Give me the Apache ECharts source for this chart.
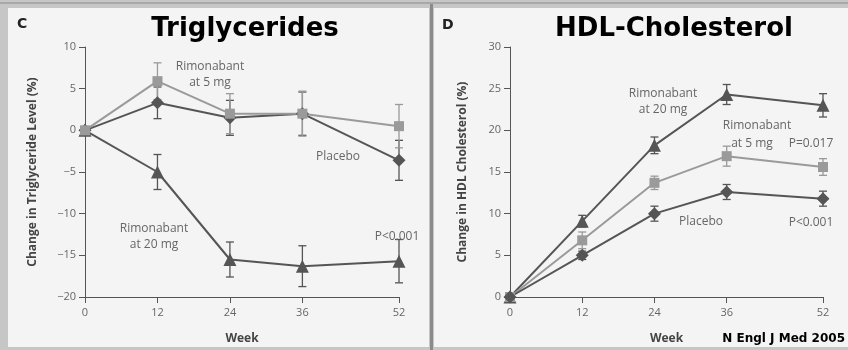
<!DOCTYPE html>
<html>
<head>
<meta charset="utf-8">
<script src="https://cdn.jsdelivr.net/npm/echarts@6/dist/echarts.min.js"></script>
<style>
  html, body { margin: 0; padding: 0; background: #c6c6c6; }
  #chart { width: 848px; height: 350px; }
</style>
</head>
<body>
<div id="chart"></div>
<script>
// Study weeks shared by both panels
const weeks = [0, 12, 24, 36, 52];
const weekTicks = [0, 12, 24, 36, 52];

// Panel C: change in triglyceride level (%), mean and error half-width
const tgPlacebo = [0, 3.3, 1.5, 2.0, -3.6];
const tgPlaceboErr = [0, 1.9, 2.1, 2.6, 2.4];
const tg5mg = [0, 5.9, 2.0, 2.0, 0.5];
const tg5mgErr = [0, 2.2, 2.4, 2.7, 2.6];
const tg20mg = [0, -5.0, -15.5, -16.3, -15.7];
const tg20mgErr = [0, 2.1, 2.1, 2.45, 2.6];

// Panel D: change in HDL cholesterol (%), mean and error half-width
const hdlPlacebo = [0, 5.0, 10.0, 12.6, 11.8];
const hdlPlaceboErr = [0, 0.5, 0.9, 0.9, 0.9];
const hdl5mg = [0, 6.8, 13.7, 16.9, 15.6];
const hdl5mgErr = [0, 1.0, 0.8, 1.2, 1.0];
const hdl20mg = [0, 9.1, 18.2, 24.3, 23.0];
const hdl20mgErr = [0, 0.7, 1.0, 1.2, 1.4];

const DARK = '#555555';
const LIGHT = '#9a9a9a';
const TEXT = '#666666';
const labelFont = '"Open Sans", "Noto Sans", sans-serif';

const chart = echarts.init(document.getElementById('chart'));

function pts(vals) { return weeks.map((w, i) => [w, vals[i]]); }
function errs(vals, e) {
  return weeks.map((w, i) => [w, vals[i] - e[i], vals[i] + e[i]]).filter((d, i) => e[i] > 0);
}

function lineSeries(axisIdx, vals, color, symbol, size) {
  return {
    type: 'line', xAxisIndex: axisIdx, yAxisIndex: axisIdx,
    data: pts(vals), symbol: symbol, symbolSize: size, showSymbol: true,
    lineStyle: { color: color, width: 2 },
    itemStyle: { color: color, borderWidth: 0 },
    animation: false, z: 3
  };
}

function errorSeries(axisIdx, vals, e, color) {
  return {
    type: 'custom', xAxisIndex: axisIdx, yAxisIndex: axisIdx,
    data: errs(vals, e), animation: false, z: 2,
    renderItem: function (params, api) {
      const x = api.value(0);
      const top = api.coord([x, api.value(2)]);
      const bot = api.coord([x, api.value(1)]);
      const cap = 4;
      const style = { stroke: color, lineWidth: 1.3 };
      return {
        type: 'group',
        children: [
          { type: 'line', shape: { x1: top[0], y1: top[1], x2: bot[0], y2: bot[1] }, style: style },
          { type: 'line', shape: { x1: top[0] - cap, y1: top[1], x2: top[0] + cap, y2: top[1] }, style: style },
          { type: 'line', shape: { x1: bot[0] - cap, y1: bot[1], x2: bot[0] + cap, y2: bot[1] }, style: style }
        ]
      };
    }
  };
}

function xAxisCfg(gridIdx) {
  return {
    type: 'value', gridIndex: gridIdx, min: 0, max: 52,
    name: 'Week', nameLocation: 'middle', nameGap: 36,
    nameTextStyle: { fontFamily: labelFont, fontWeight: 'bold', fontSize: 12, color: '#444' },
    axisLine: { onZero: false, lineStyle: { color: DARK, width: 1 } },
    axisTick: { show: true, length: 6, customValues: weekTicks, lineStyle: { color: DARK } },
    axisLabel: { customValues: weekTicks, fontFamily: labelFont, fontSize: 11, color: TEXT, margin: 10 },
    splitLine: { show: false }
  };
}

function yAxisCfg(gridIdx, min, max, name, gap) {
  return {
    type: 'value', gridIndex: gridIdx, min: min, max: max, interval: 5,
    name: name, nameLocation: 'middle', nameGap: gap,
    nameTextStyle: { fontFamily: labelFont, fontWeight: 'bold', fontSize: 12, color: '#444' },
    axisLine: { show: true, onZero: false, lineStyle: { color: DARK, width: 1 } },
    axisTick: { show: true, length: 6, lineStyle: { color: DARK } },
    axisLabel: {
      fontFamily: labelFont, fontSize: 11, color: TEXT, margin: 9,
      formatter: v => String(v).replace('-', '\u2212')
    },
    splitLine: { show: false }
  };
}

function note(x, y, text, align) {
  return {
    type: 'text', x: x, y: y, z: 10,
    style: {
      text: text, fill: TEXT, font: '12px ' + labelFont,
      textAlign: align || 'center', textVerticalAlign: 'middle', lineHeight: 16
    }
  };
}

const option = {
  backgroundColor: '#c6c6c6',
  animation: false,
  grid: [
    { left: 85, right: 449, top: 47, bottom: 52 },
    { left: 510, right: 25, top: 47, bottom: 52 }
  ],
  xAxis: [xAxisCfg(0), xAxisCfg(1)],
  yAxis: [
    yAxisCfg(0, -20, 10, 'Change in Triglyceride Level (%)', 46),
    yAxisCfg(1, 0, 30, 'Change in HDL Cholesterol (%)', 41)
  ],
  graphic: [
    // panel backgrounds and frame
    { type: 'rect', shape: { x: 8, y: 8, width: 421, height: 339 }, style: { fill: '#f4f4f4' }, z: -10 },
    { type: 'rect', shape: { x: 434, y: 8, width: 414, height: 339 }, style: { fill: '#f4f4f4' }, z: -10 },
    { type: 'rect', shape: { x: 0, y: 2, width: 848, height: 2 }, style: { fill: '#a8a8a8' }, z: -9 },
    { type: 'rect', shape: { x: 430, y: 4, width: 3, height: 346 }, style: { fill: '#8a8a8a' }, z: -9 },
    // panel letters and titles
    { type: 'text', x: 17, y: 24, style: { text: 'C', font: 'bold 14px "DejaVu Sans", sans-serif', fill: '#222', textVerticalAlign: 'middle' } },
    { type: 'text', x: 442, y: 25, style: { text: 'D', font: 'bold 14px "DejaVu Sans", sans-serif', fill: '#222', textVerticalAlign: 'middle' } },
    { type: 'text', x: 245, y: 29, style: { text: 'Triglycerides', font: 'bold 26px "Comic Sans MS", "DejaVu Sans", sans-serif', fill: '#000', textAlign: 'center', textVerticalAlign: 'middle' } },
    { type: 'text', x: 674, y: 29, style: { text: 'HDL-Cholesterol', font: 'bold 26px "Comic Sans MS", "DejaVu Sans", sans-serif', fill: '#000', textAlign: 'center', textVerticalAlign: 'middle' } },
    { type: 'text', x: 845, y: 339, style: { text: 'N Engl J Med 2005', font: 'bold 12px "Comic Sans MS", "DejaVu Sans", sans-serif', fill: '#000', textAlign: 'right', textVerticalAlign: 'middle' } },
    // series annotations, panel C
    note(210, 75, 'Rimonabant\nat 5 mg'),
    note(338, 157, 'Placebo'),
    note(154, 237, 'Rimonabant\nat 20 mg'),
    note(397, 237, 'P<0.001'),
    // series annotations, panel D
    note(663, 102, 'Rimonabant\nat 20 mg'),
    note(757, 126, 'Rimonabant'),
    note(752, 144, 'at 5 mg'),
    note(811, 144, 'P=0.017'),
    note(701, 222, 'Placebo'),
    note(811, 223, 'P<0.001')
  ],
  series: [
    errorSeries(0, tg20mg, tg20mgErr, DARK),
    errorSeries(0, tgPlacebo, tgPlaceboErr, DARK),
    errorSeries(0, tg5mg, tg5mgErr, LIGHT),
    lineSeries(0, tg20mg, DARK, 'triangle', 13),
    lineSeries(0, tgPlacebo, DARK, 'diamond', 13),
    lineSeries(0, tg5mg, LIGHT, 'rect', 10),

    errorSeries(1, hdl20mg, hdl20mgErr, DARK),
    errorSeries(1, hdl5mg, hdl5mgErr, LIGHT),
    errorSeries(1, hdlPlacebo, hdlPlaceboErr, DARK),
    lineSeries(1, hdl20mg, DARK, 'triangle', 13),
    lineSeries(1, hdl5mg, LIGHT, 'rect', 10),
    lineSeries(1, hdlPlacebo, DARK, 'diamond', 13)
  ]
};

chart.setOption(option);
</script>
</body>
</html>
